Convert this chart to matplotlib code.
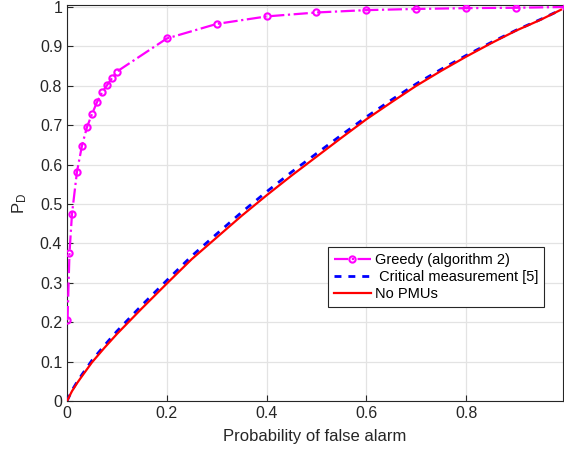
import matplotlib.pyplot as plt

# false alarm probability / detection probability
greedy_pfa = [0.001, 0.005, 0.01, 0.02, 0.03, 0.04, 0.05, 0.06, 0.07, 0.08, 0.09, 0.1,
              0.2, 0.3, 0.4, 0.5, 0.6, 0.7, 0.8, 0.9, 1.0]
greedy_pd = [0.205, 0.376, 0.475, 0.582, 0.648, 0.695, 0.728, 0.758, 0.783, 0.801, 0.819, 0.836,
             0.92, 0.957, 0.976, 0.986, 0.992, 0.995, 0.997, 0.998, 1.0]

roc_pfa = [0.0, 0.01, 0.02, 0.03, 0.05, 0.075, 0.1, 0.15, 0.2, 0.25, 0.3, 0.35, 0.4, 0.45,
           0.5, 0.55, 0.6, 0.65, 0.7, 0.75, 0.8, 0.85, 0.9, 0.95, 0.99]
critical_pd = [0.0, 0.027, 0.048, 0.067, 0.103, 0.141, 0.177, 0.243, 0.306, 0.368, 0.424, 0.479,
               0.531, 0.581, 0.628, 0.675, 0.721, 0.764, 0.805, 0.842, 0.877, 0.91, 0.941, 0.969, 0.993]
nopmu_pd = [0.0, 0.025, 0.045, 0.063, 0.098, 0.135, 0.17, 0.235, 0.298, 0.36, 0.415, 0.47,
            0.522, 0.572, 0.62, 0.668, 0.715, 0.758, 0.80, 0.838, 0.874, 0.908, 0.94, 0.968, 0.993]

x_ticks = [0, 0.2, 0.4, 0.6, 0.8]
x_tick_labels = ["0", "0.2", "0.4", "0.6", "0.8"]
y_ticks = [0, 0.1, 0.2, 0.3, 0.4, 0.5, 0.6, 0.7, 0.8, 0.9, 1.0]
y_tick_labels = ["0", "0.1", "0.2", "0.3", "0.4", "0.5", "0.6", "0.7", "0.8", "0.9", "1"]

plt.rcParams.update({
    "font.family": ["Liberation Sans", "DejaVu Sans"],
    "font.size": 11,
})

fig = plt.figure(figsize=(5.64, 4.54), dpi=100)
ax = fig.add_axes([67 / 564, 53 / 454, 496 / 564, 396 / 454])

ax.plot(greedy_pfa, greedy_pd, color="#ff00ff", linestyle="-.", linewidth=1.6,
        marker="o", markersize=4.5, markerfacecolor="none", markeredgewidth=1.5,
        label="Greedy (algorithm 2)", zorder=4)
ax.plot(roc_pfa, critical_pd, color="#0000ff", linestyle=(0, (2.5, 2.5)), linewidth=2,
        label=" Critical measurement [5]", zorder=3)
ax.plot(roc_pfa, nopmu_pd, color="#ff0000", linestyle="-", linewidth=1.6,
        label="No PMUs", zorder=3)

ax.set_xlim(0, 0.994)
ax.set_ylim(0, 1.005)
ax.set_xticks(x_ticks)
ax.set_xticklabels(x_tick_labels)
ax.set_yticks(y_ticks)
ax.set_yticklabels(y_tick_labels)

ax.grid(True, color="#e3e3e3", linewidth=0.9)
ax.set_axisbelow(True)
ax.tick_params(direction="in", length=4, colors="#262626", labelsize=11.5, width=0.8)
for spine in ax.spines.values():
    spine.set_color("#262626")
    spine.set_linewidth(0.8)

ax.set_xlabel("Probability of false alarm", fontsize=12, color="#262626", labelpad=6)
ax.set_ylabel(r"$\mathregular{P_D}$", fontsize=12, color="#262626", labelpad=8)

leg = ax.legend(loc="lower right", bbox_to_anchor=(0.977, 0.22), fontsize=10.5,
                frameon=True, fancybox=False, edgecolor="#262626", framealpha=1,
                borderpad=0.4, labelspacing=0.2, handlelength=2.5, handletextpad=0.3)
leg.get_frame().set_linewidth(0.8)

fig.savefig("out.png", dpi=100)
